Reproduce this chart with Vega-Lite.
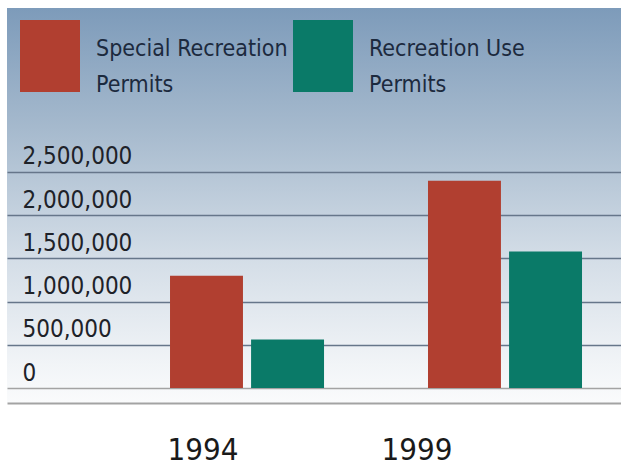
{
  "$schema": "https://vega.github.io/schema/vega-lite/v6.json",
  "width": 614,
  "height": 395,
  "autosize": {"type": "none"},
  "padding": {"left": 7, "top": 8, "right": 0, "bottom": 67},
  "background": "#ffffff",
  "data": {
    "values": [
      {"year": "1994", "permit": "Special Recreation Permits", "value": 1300000},
      {"year": "1994", "permit": "Recreation Use Permits", "value": 560000},
      {"year": "1999", "permit": "Special Recreation Permits", "value": 2400000},
      {"year": "1999", "permit": "Recreation Use Permits", "value": 1580000}
    ]
  },
  "mark": {"type": "bar"},
  "encoding": {
    "x": {
      "field": "year",
      "type": "nominal",
      "scale": {"paddingInner": 0.403, "paddingOuter": 0.3915, "align": 0.807},
      "axis": {
        "title": null,
        "orient": "bottom",
        "domain": true,
        "domainColor": "#a3a3a3",
        "domainWidth": 2,
        "ticks": false,
        "labelAngle": 0,
        "labelFont": "DejaVu Sans Condensed, Liberation Sans Narrow, sans-serif",
        "labelFontSize": 31,
        "labelColor": "#1a1a1a",
        "labelPadding": 32,
        "labelOffset": {"condition": {"test": "datum.value === '1994'", "value": -44}, "value": -88}
      }
    },
    "xOffset": {
      "field": "permit",
      "type": "nominal",
      "sort": ["Special Recreation Permits", "Recreation Use Permits"],
      "scale": {"paddingInner": 0.1, "paddingOuter": 0}
    },
    "y": {
      "field": "value",
      "type": "quantitative",
      "stack": null,
      "scale": {"domain": [-173600, 4398000], "nice": false, "zero": false},
      "axis": {
        "title": null,
        "values": [0, 500000, 1000000, 1500000, 2000000, 2500000],
        "labelExpr": "format(datum.value, ',')",
        "grid": true,
        "gridColor": {"condition": {"test": "datum.value === 0", "value": "#a3a3a3"}, "value": "#66768a"},
        "gridWidth": 1.5,
        "domain": false,
        "ticks": false,
        "tickSize": 0,
        "labelAlign": "left",
        "labelBaseline": "alphabetic",
        "labelPadding": -15,
        "labelOffset": -8,
        "labelFont": "DejaVu Sans Condensed, Liberation Sans Narrow, sans-serif",
        "labelFontSize": 24,
        "labelColor": "#1e2229"
      }
    },
    "color": {
      "field": "permit",
      "type": "nominal",
      "scale": {
        "domain": ["Special Recreation Permits", "Recreation Use Permits"],
        "range": ["#b13f30", "#0a7a68"]
      },
      "legend": {
        "title": null,
        "orient": "none",
        "legendX": 13,
        "legendY": 18,
        "direction": "horizontal",
        "padding": 0,
        "symbolType": "M-1,-1.2H1V1.2H-1Z",
        "symbolSize": 3600,
        "symbolStrokeWidth": 0,
        "symbolOpacity": 1,
        "labelOffset": 16,
        "columnPadding": 5,
        "labelBaseline": "alphabetic",
        "labelFont": "DejaVu Sans Condensed, Liberation Sans Narrow, sans-serif",
        "labelFontSize": 23,
        "labelColor": "#1c2a3e",
        "labelLimit": 400,
        "labelExpr": "datum.label === 'Special Recreation Permits' ? ['Special Recreation', 'Permits'] : ['Recreation Use', 'Permits']"
      }
    }
  },
  "config": {
    "view": {
      "stroke": null,
      "fill": {
        "gradient": "linear",
        "x1": 0, "y1": 0, "x2": 0, "y2": 1,
        "stops": [
          {"offset": 0, "color": "#7d9bba"},
          {"offset": 0.3, "color": "#a5b9cd"},
          {"offset": 0.62, "color": "#d2dce6"},
          {"offset": 0.9, "color": "#f1f4f7"},
          {"offset": 1, "color": "#fafbfc"}
        ]
      }
    },
    "style": {"guide-label": {"lineHeight": 36}}
  }
}
